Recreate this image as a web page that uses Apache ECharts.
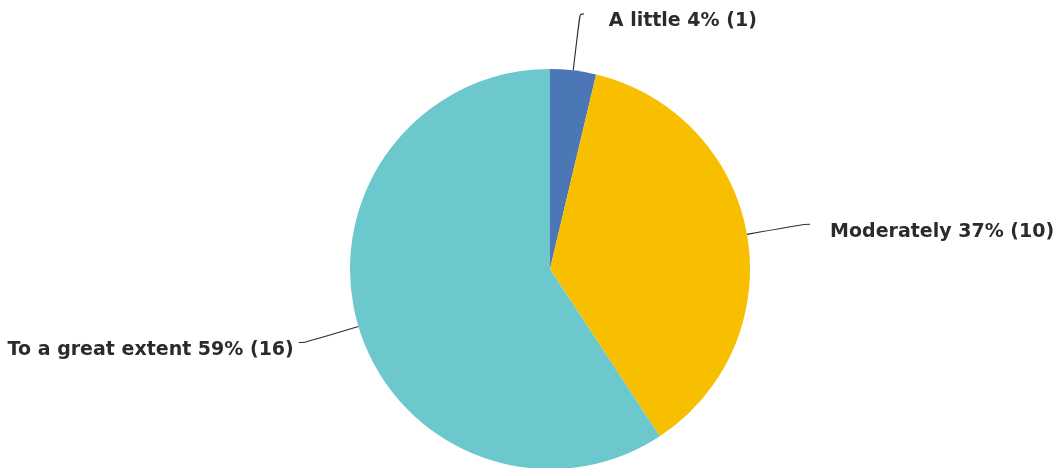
<!DOCTYPE html>
<html>
<head>
<meta charset="utf-8">
<script src="https://cdn.jsdelivr.net/npm/echarts@6/dist/echarts.min.js"></script>
<style>html,body{margin:0;padding:0;background:#fff;}#c{width:1063px;height:468px;}</style>
</head>
<body>
<div id="c"></div>
<script>
const categories = ["A little", "Moderately", "To a great extent"];
const counts = [1, 10, 16];
const percents = [4, 37, 59];
const colors = ["#4b77b6", "#f8be00", "#6cc8cc"];
// [length, length2, distanceToLabelLine, vertical text shift]
const lineLengths = [[57, 4, 25, 7], [58, 6, 20, 8], [56, 6, 5, 8]];

const data = categories.map((name, i) => ({
  name: name,
  value: counts[i],
  itemStyle: { color: colors[i] },
  label: { distanceToLabelLine: lineLengths[i][2] },
  labelLine: { length: lineLengths[i][0], length2: lineLengths[i][1] }
}));

const chart = echarts.init(document.getElementById('c'));
chart.setOption({
  backgroundColor: '#fff',
  animation: false,
  series: [{
    type: 'pie',
    center: ['51.74%', '57.5%'],
    radius: 200,
    startAngle: 90,
    clockwise: true,
    avoidLabelOverlap: false,
    data: data,
    itemStyle: { borderWidth: 0 },
    label: {
      show: true,
      position: 'outside',
      alignTo: 'none',
      fontFamily: 'DejaVu Sans',
      fontWeight: 'bold',
      fontSize: 19,
      color: '#2b2b2b',
      formatter: function (p) {
        return p.name + ' ' + percents[p.dataIndex] + '% (' + counts[p.dataIndex] + ')';
      }
    },
    labelLayout: function (params) {
      return { dy: lineLengths[params.dataIndex][3] };
    },
    labelLine: {
      show: true,
      smooth: 0.4,
      lineStyle: { color: '#2b2b2b', width: 1.1 }
    }
  }]
});
</script>
</body>
</html>
